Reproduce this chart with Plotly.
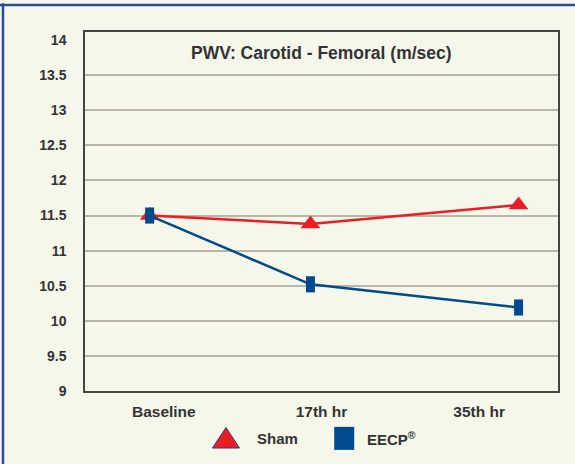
import plotly.graph_objects as go

# categories and values
categories = ['Baseline', '17th hr', '35th hr']
label_pos = [0.5, 1.5, 2.5]          # where the category labels sit
point_pos = [0.41, 1.43, 2.75]       # where the points were plotted (uneven in the original)
sham = [11.50, 11.38, 11.65]
eecp = [11.50, 10.52, 10.19]
y_ticks = [9, 9.5, 10, 10.5, 11, 11.5, 12, 12.5, 13, 13.5, 14]

RED = '#EC1C24'
BLUE = '#004A8D'
BG = '#F6F7EB'
TXT = '#333333'
FONT = 'Liberation Sans, Arial, sans-serif'

fig = go.Figure()

fig.add_trace(go.Scatter(
    x=point_pos, y=sham, mode='lines+markers', name='Sham',
    line=dict(color=RED, width=2.5),
    marker=dict(symbol='triangle-up', size=17, color=RED),
    showlegend=False
))

fig.add_trace(go.Scatter(
    x=point_pos, y=eecp, mode='lines+markers', name='EECP®',
    line=dict(color=BLUE, width=2.5),
    marker=dict(symbol='line-ns', size=11.5, color=BLUE,
                line=dict(width=9, color=BLUE)),
    showlegend=False
))

# plot title inside the frame
fig.add_annotation(x=0.501, y=0.941, xref='paper', yref='paper',
                   xanchor='center', yanchor='middle',
                   text='<b>PWV: Carotid - Femoral (m/sec)</b>', showarrow=False,
                   font=dict(size=17.5, color=TXT, family=FONT))

# hand-made legend below the axis
fig.add_shape(type='path', xref='paper', yref='paper',
              xsizemode='pixel', ysizemode='pixel', xanchor=0.298, yanchor=-0.131,
              path='M-13.5,-10 L13.5,-10 L0,10.5 Z',
              fillcolor=RED, line=dict(color='#2B3F7A', width=1))
fig.add_shape(type='rect', xref='paper', yref='paper',
              xsizemode='pixel', ysizemode='pixel', xanchor=0.548, yanchor=-0.132,
              x0=-10, x1=10, y0=-11.5, y1=11.5,
              fillcolor=BLUE, line=dict(width=0))
fig.add_annotation(x=0.359, y=-0.133, xref='paper', yref='paper',
                   xanchor='left', yanchor='middle',
                   text='<b>Sham</b>', showarrow=False,
                   font=dict(size=15, color=TXT, family=FONT))
fig.add_annotation(x=0.592, y=-0.133, xref='paper', yref='paper',
                   xanchor='left', yanchor='middle',
                   text='<b>EECP<sup>®</sup></b>', showarrow=False,
                   font=dict(size=15, color=TXT, family=FONT))

# blue page border on top and left
fig.add_shape(type='line', xref='paper', yref='paper',
              x0=-0.18, x1=1.04, y0=1.0752, y1=1.0752,
              line=dict(color='#2B4C9B', width=2.5))
fig.add_shape(type='line', xref='paper', yref='paper',
              x0=-0.1734, x1=-0.1734, y0=-0.21, y1=1.08,
              line=dict(color='#2B4C9B', width=2.5))

fig.update_layout(
    width=575, height=464,
    margin=dict(l=85, r=17, t=32, b=73),
    paper_bgcolor=BG, plot_bgcolor=BG,
    font=dict(family=FONT, color=TXT, size=14),
    showlegend=False
)

fig.update_xaxes(
    range=[0, 3], tickvals=label_pos,
    ticktext=['<b>%s</b>' % c for c in categories],
    showgrid=False, zeroline=False, ticks='',
    showline=True, mirror=True, linecolor='#444444', linewidth=1.5,
    ticklabelstandoff=6, tickfont=dict(size=15.5, color=TXT)
)
fig.update_yaxes(
    range=[9, 14.115], tickvals=y_ticks,
    ticktext=['<b>%g</b>' % v for v in y_ticks],
    showgrid=False, zeroline=False, ticks='',
    showline=True, mirror=True, linecolor='#444444', linewidth=1.5,
    ticklabelstandoff=14, tickfont=dict(size=14, color=TXT),
    minor=dict(tickvals=y_ticks[1:-1], showgrid=True,
               gridcolor='#B9B6A8', gridwidth=1.8)
)

fig.write_html('out.html', config={'displayModeBar': False},
               post_script="document.body.style.margin='0';"
                           "document.body.style.background='%s';" % BG)
